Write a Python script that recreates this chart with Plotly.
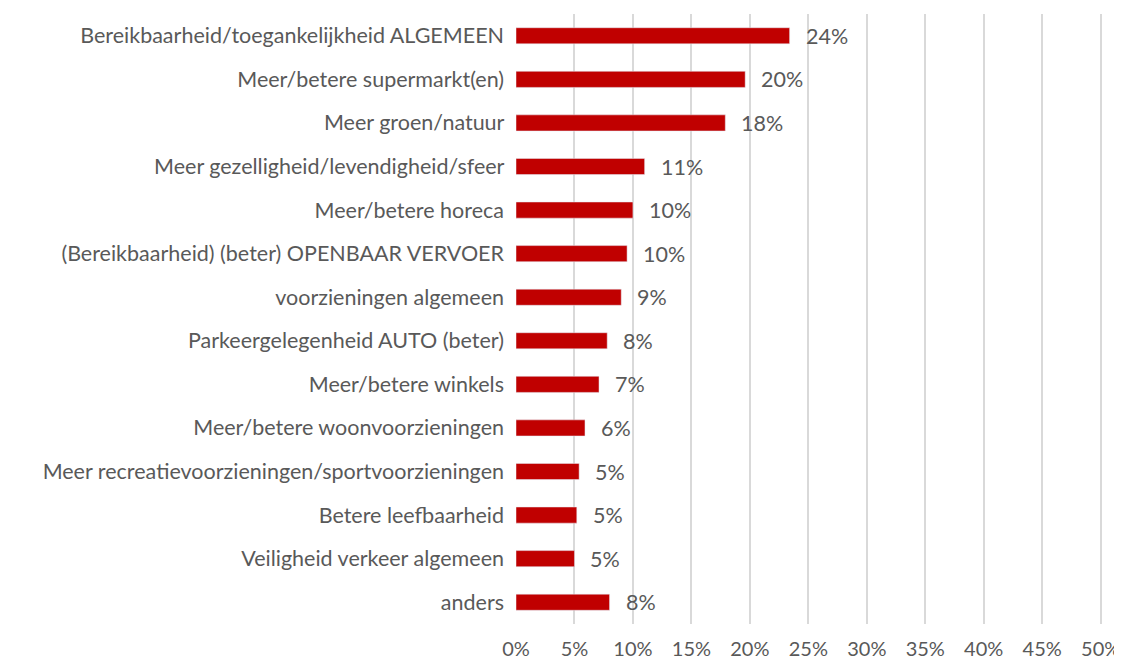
import plotly.graph_objects as go

categories = [
    "Bereikbaarheid/toegankelijkheid ALGEMEEN",
    "Meer/betere supermarkt(en)",
    "Meer groen/natuur",
    "Meer gezelligheid/levendigheid/sfeer",
    "Meer/betere horeca",
    "(Bereikbaarheid) (beter) OPENBAAR VERVOER",
    "voorzieningen algemeen",
    "Parkeergelegenheid AUTO (beter)",
    "Meer/betere winkels",
    "Meer/betere woonvoorzieningen",
    "Meer recreatievoorzieningen/sportvoorzieningen",
    "Betere leefbaarheid",
    "Veiligheid verkeer algemeen",
    "anders",
]
values = [0.234, 0.196, 0.179, 0.110, 0.100, 0.095, 0.090, 0.078, 0.071, 0.059, 0.054, 0.052, 0.050, 0.080]
value_labels = ["24%", "20%", "18%", "11%", "10%", "10%", "9%", "8%", "7%", "6%", "5%", "5%", "5%", "8%"]
tick_vals = [0, 0.05, 0.10, 0.15, 0.20, 0.25, 0.30, 0.35, 0.40, 0.45, 0.50]

FONT = "Lato"
TXT = "#595959"
FS = 21.5

fig = go.Figure()
fig.add_trace(go.Bar(
    x=values, y=categories, orientation="h",
    marker=dict(color="#c00000"),
    width=0.37,
    hoverinfo="skip",
))
for v, c, lab in zip(values, categories, value_labels):
    fig.add_annotation(x=v, y=c, xref="x", yref="y", text=lab, showarrow=False,
                       xanchor="left", yanchor="middle", xshift=14, yshift=0,
                       font=dict(family=FONT, size=FS, color=TXT))

# page body has an 8px default margin, so the figure is sized/offset to compensate
fig.update_layout(
    width=1114, height=656,
    margin=dict(l=508, r=19, t=6, b=40),
    paper_bgcolor="white", plot_bgcolor="white",
    showlegend=False,
    font=dict(family=FONT, size=FS, color=TXT),
    xaxis=dict(range=[0, 0.502], tickvals=tick_vals, tickformat=".0%",
               showgrid=True, gridcolor="#d9d9d9", gridwidth=1.5,
               zeroline=False, showline=False, ticks="", ticklen=0,
               ticklabelstandoff=11,
               automargin=False,
               tickfont=dict(family=FONT, size=20, color=TXT)),
    yaxis=dict(categoryorder="array", categoryarray=categories, autorange="reversed",
               showgrid=False, zeroline=False, showline=False, ticks="",
               ticksuffix="  ", automargin=False,
               tickfont=dict(family=FONT, size=FS, color=TXT)),
)
fig.write_html("out.html")
